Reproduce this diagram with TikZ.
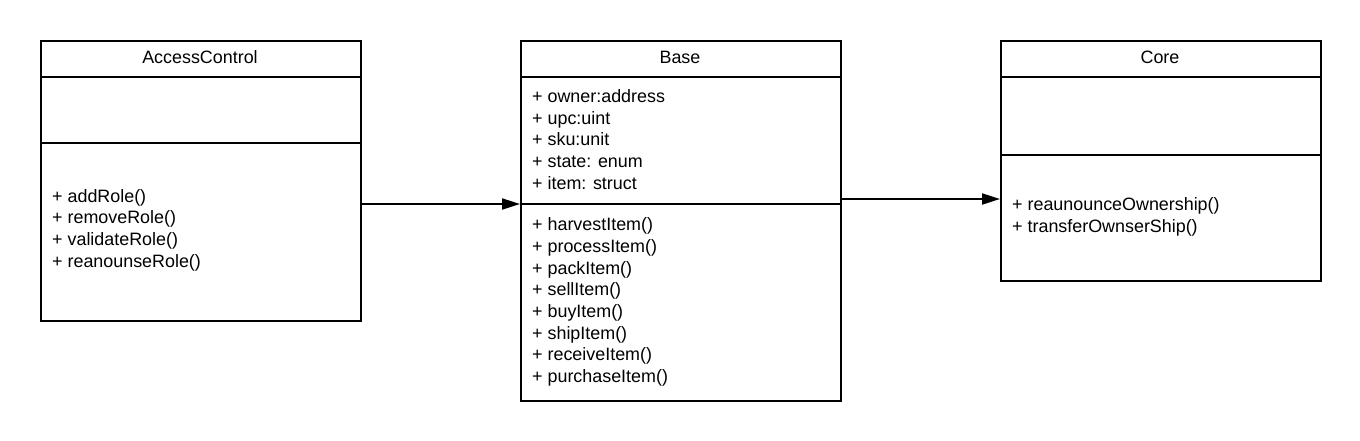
\documentclass[tikz,border=0pt]{standalone}
\usepackage{fontspec}
\setmainfont{Liberation Sans}
\usetikzlibrary{arrows.meta}
\begin{document}
\begin{tikzpicture}[x=1pt,y=-1pt,
  box/.style={draw=black, line width=2pt, rectangle, anchor=north west, inner sep=0pt},
  divider/.style={line width=2pt},
  title/.style={font=\fontsize{17.9}{21.7}\selectfont, anchor=center},
  members/.style={font=\fontsize{17.9}{21.7}\selectfont, align=left, anchor=west, inner sep=0pt},
  arr/.style={line width=2pt, -{Triangle[length=18pt,width=11pt]}}]
\useasboundingbox (0,0) rectangle (1360,440);
% AccessControl
\node[box, minimum width=320pt, minimum height=280pt] (ac) at (40,40) {};
\draw[divider] ([yshift=-37pt]ac.north west) -- ([yshift=-37pt]ac.north east);
\draw[divider] ([yshift=-103pt]ac.north west) -- ([yshift=-103pt]ac.north east);
\node[title] (actitle) at (200,57) {AccessControl};
\node[members] (acm) at (52,230) {+ addRole()\\+ removeRole()\\+ validateRole()\\+ reanounseRole()};
% Base
\node[box, minimum width=320pt, minimum height=360pt] (base) at (520,40) {};
\draw[divider] ([yshift=-37pt]base.north west) -- ([yshift=-37pt]base.north east);
\draw[divider] ([yshift=-164pt]base.north west) -- ([yshift=-164pt]base.north east);
\node[title] (basetitle) at (680,57) {Base};
\node[members] (basea) at (532,139.5) {+ owner:address\\+ upc:uint\\+ sku:unit\\+ state: enum\\+ item: struct};
\node[members] (basem) at (532,302) {+ harvestItem()\\+ processItem()\\+ packItem()\\+ sellItem()\\+ buyItem()\\+ shipItem()\\+ receiveItem()\\+ purchaseItem()};
% Core
\node[box, minimum width=320pt, minimum height=240pt] (core) at (1000,40) {};
\draw[divider] ([yshift=-37pt]core.north west) -- ([yshift=-37pt]core.north east);
\draw[divider] ([yshift=-115pt]core.north west) -- ([yshift=-115pt]core.north east);
\node[title] (coretitle) at (1160,57) {Core};
\node[members] (corem) at (1012,217) {+ reaunounceOwnership()\\+ transferOwnserShip()};
% connectors
\draw[arr] ([yshift=-23pt]ac.east) -- ([yshift=-23pt]ac.east -| base.west);
\draw[arr] ([yshift=22pt]base.east) -- ([yshift=22pt]base.east -| core.west);
\end{tikzpicture}
\end{document}
